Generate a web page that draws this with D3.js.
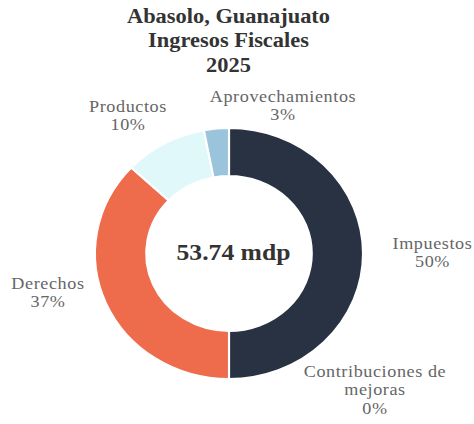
<!DOCTYPE html>
<html>
<head>
<meta charset="utf-8">
<script src="https://cdn.jsdelivr.net/npm/d3@7"></script>
<style>
  body { margin: 0; background: #fff; }
  svg text { font-family: "Liberation Serif", "Times New Roman", serif; }
</style>
</head>
<body>
<div id="chart"></div>
<script>
const WIDTH = 474;
const HEIGHT = 424;

const titleLines = ["Abasolo, Guanajuato", "Ingresos Fiscales", "2025"];
const totalLabel = "53.74 mdp";

const categories = ["Impuestos", "Contribuciones de mejoras", "Derechos", "Productos", "Aprovechamientos"];
const shares = [50, 0, 37, 10, 3];
const colors = ["#283242", "#4a5a70", "#ee6b4c", "#e1f8fa", "#99c4dc"];

// where each label sits on the page (layout only)
const labelLayout = {
  "Impuestos": { x: 432.5, y: 249, lines: ["Impuestos"] },
  "Contribuciones de mejoras": { x: 375, y: 377, lines: ["Contribuciones de", "mejoras"] },
  "Derechos": { x: 48, y: 289, lines: ["Derechos"] },
  "Productos": { x: 128, y: 112, lines: ["Productos"] },
  "Aprovechamientos": { x: 283, y: 102, lines: ["Aprovechamientos"] }
};

// the original picture is a bit wider than tall
const stretch = 1.068;
const sx = x => x / stretch;

const cx = 229, cy = 253.5;
const outerR = 125.5, innerR = 77.5;

const svg = d3.select("#chart").append("svg")
  .attr("width", WIDTH)
  .attr("height", HEIGHT);

const root = svg.append("g")
  .attr("transform", `scale(${stretch},1)`);

// title
root.append("text")
  .attr("text-anchor", "middle")
  .style("font-size", "21px")
  .style("font-weight", "bold")
  .style("fill", "#333")
  .selectAll("tspan")
  .data(titleLines).enter()
  .append("tspan")
  .attr("x", sx(228.5))
  .attr("y", (d, i) => 23 + i * 24.5)
  .text(d => d);

const data = categories.map((c, i) => ({ name: c, value: shares[i], color: colors[i] }));

const pie = d3.pie()
  .sort(null)
  .value(d => d.value);

const arc = d3.arc()
  .innerRadius(innerR)
  .outerRadius(outerR);

const g = root.append("g")
  .attr("transform", `translate(${sx(cx)},${cy})`);

g.selectAll("path")
  .data(pie(data).filter(d => d.data.value > 0))
  .enter()
  .append("path")
  .attr("d", arc)
  .style("fill", d => d.data.color)
  .style("stroke", "#fff")
  .style("stroke-width", 2);

root.append("text")
  .attr("x", sx(233.5))
  .attr("y", 260)
  .attr("text-anchor", "middle")
  .style("font-size", "24px")
  .style("font-weight", "bold")
  .style("fill", "#333")
  .text(totalLabel);

// data labels
data.forEach(d => {
  const lay = labelLayout[d.name];
  const lines = lay.lines.concat([d.value + "%"]);
  root.append("text")
    .attr("text-anchor", "middle")
    .style("font-size", "17px")
    .style("letter-spacing", "0.55px")
    .style("fill", "#666")
    .selectAll("tspan")
    .data(lines).enter()
    .append("tspan")
    .attr("x", sx(lay.x))
    .attr("y", (l, i) => lay.y + i * 18.5)
    .text(l => l);
});
</script>
</body>
</html>
